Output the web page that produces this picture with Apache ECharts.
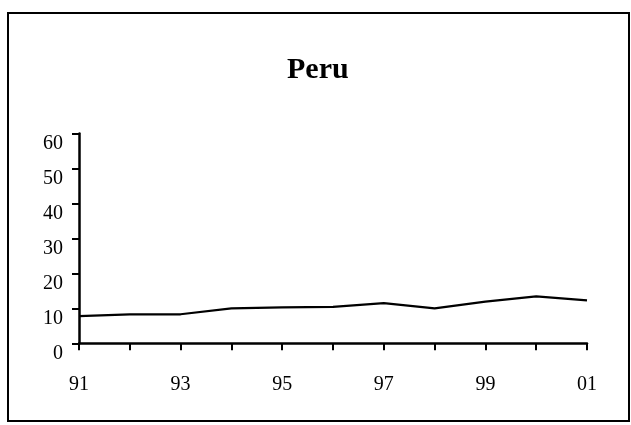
<!DOCTYPE html>
<html>
<head>
<meta charset="utf-8">
<script src="https://cdn.jsdelivr.net/npm/echarts@6/dist/echarts.min.js"></script>
<style>
html,body{margin:0;padding:0;background:#fff;}
#chart{width:631px;height:425px;}
</style>
</head>
<body>
<div id="chart"></div>
<script>
const years = ['91','92','93','94','95','96','97','98','99','00','01'];
const values = [7.8, 8.3, 8.3, 10.0, 10.3, 10.4, 11.5, 10.0, 11.9, 13.4, 12.3];
const yTicks = [0, 10, 20, 30, 40, 50, 60];
const titleText = 'Peru';

const chart = echarts.init(document.getElementById('chart'), null, {renderer: 'canvas'});
const serif = '"Liberation Serif", "Times New Roman", serif';
chart.setOption({
  animation: false,
  backgroundColor: '#fff',
  graphic: [{
    type: 'rect',
    shape: {x: 8, y: 13, width: 621, height: 408},
    style: {fill: 'none', stroke: '#000', lineWidth: 2},
    silent: true
  }],
  title: {
    text: titleText,
    left: 287,
    top: 55,
    padding: 0,
    textStyle: {fontFamily: serif, fontWeight: 'bold', fontSize: 30, color: '#000'}
  },
  grid: {left: 79, right: 44, top: 133.5, height: 209.8, containLabel: false},
  xAxis: {
    type: 'category',
    data: years,
    boundaryGap: false,
    axisLine: {lineStyle: {color: '#000', width: 2.5}},
    axisTick: {show: true, length: 7, interval: 0, lineStyle: {color: '#000', width: 2}},
    axisLabel: {
      interval: 1, margin: 31, color: '#000',
      fontFamily: serif, fontSize: 20
    },
    splitLine: {show: false}
  },
  yAxis: {
    type: 'value',
    min: yTicks[0],
    max: yTicks[yTicks.length - 1],
    interval: 10,
    axisLine: {show: true, lineStyle: {color: '#000', width: 2.5}},
    axisTick: {show: true, length: 7, lineStyle: {color: '#000', width: 2}},
    axisLabel: {
      margin: 16, color: '#000', fontFamily: serif, fontSize: 20,
      verticalAlign: 'top', lineHeight: 20
    },
    splitLine: {show: false}
  },
  series: [{
    type: 'line',
    data: values,
    symbol: 'none',
    lineStyle: {color: '#000', width: 2.2},
    silent: true
  }]
});
</script>
</body>
</html>
